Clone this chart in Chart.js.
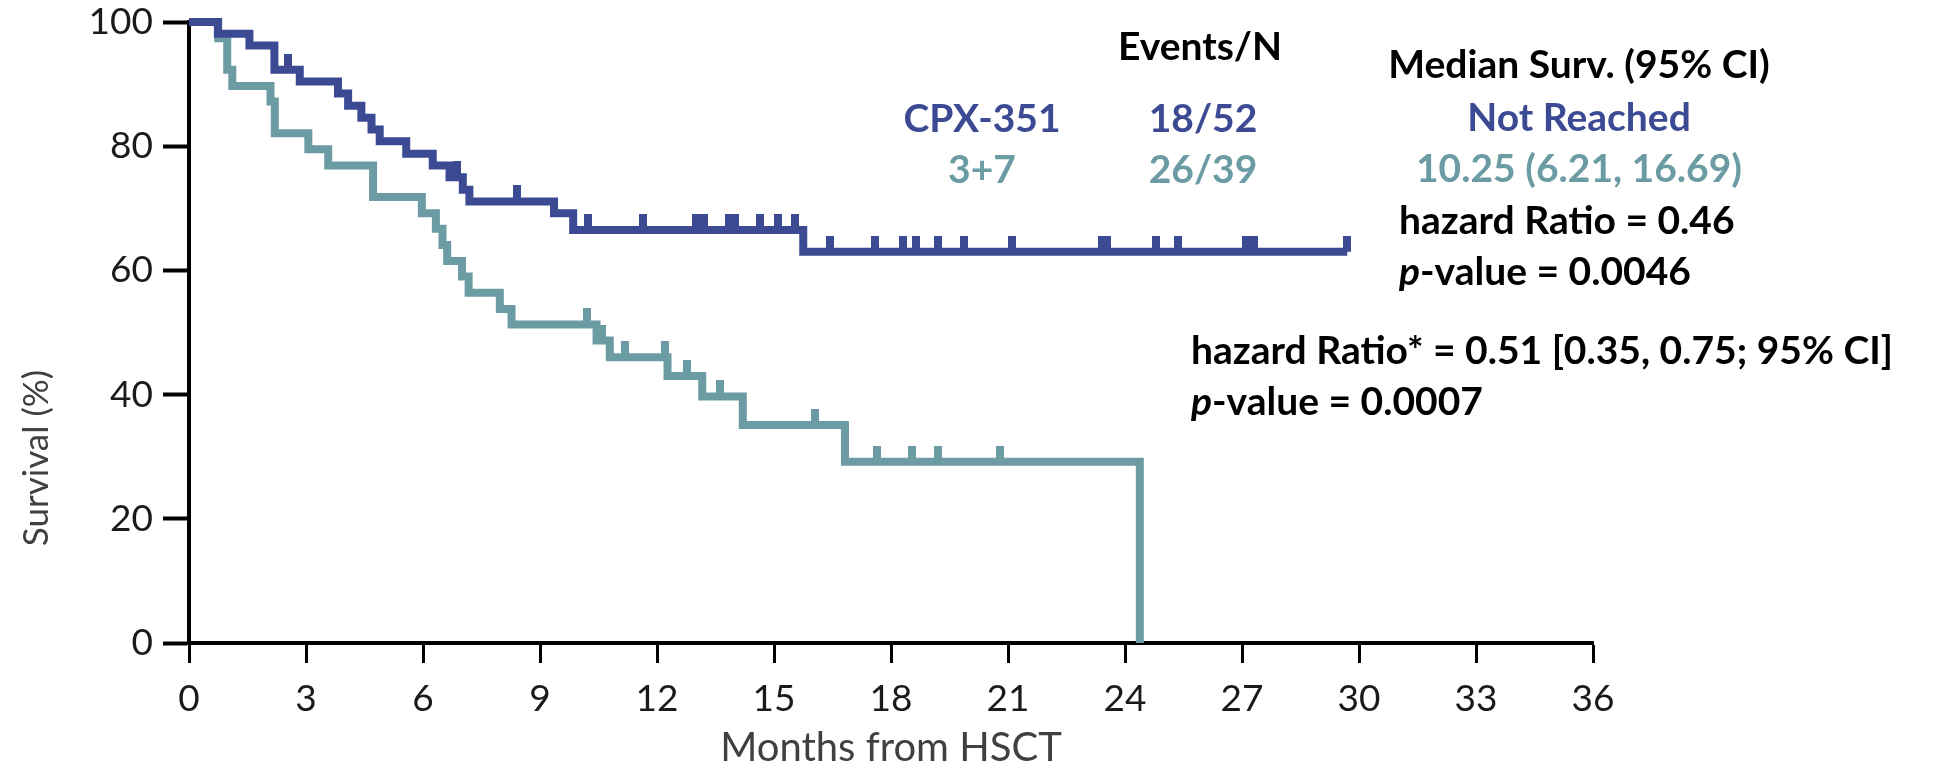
<!DOCTYPE html>
<html>
<head>
<meta charset="utf-8">
<script src="https://cdn.jsdelivr.net/npm/chart.js@4.4.0/dist/chart.umd.min.js"></script>
<style>
    body { margin: 0; background: #fff; }
    #chartContainer { width: 1941px; height: 764px; }
</style>
</head>
<body>
<div id="chartContainer"><canvas id="kmChart" width="1941" height="764"></canvas></div>
<script>
// -- DATA

const monthTicks = [0, 3, 6, 9, 12, 15, 18, 21, 24, 27, 30, 33, 36];
const survTicks = [0, 20, 40, 60, 80, 100];

const groupNames = ["CPX-351", "3+7"];
const eventsN = ["18/52", "26/39"];
const medianSurv = ["Not Reached", "10.25 (6.21, 16.69)"];
const tableHeaders = ["Events/N", "Median Surv. (95% CI)"];
const hazardLabels = ["hazard Ratio = 0.46", "hazard Ratio* = 0.51 [0.35, 0.75; 95% CI]"];
const pValues = ["0.0046", "0.0007"];

// CPX-351 step curve: month of each step, survival (%) after it
const cpxTimes = [0, 0.74, 1.55, 2.19, 2.84, 3.82, 4.08, 4.42, 4.68, 4.89, 5.57, 6.25, 6.68, 7.02, 7.19, 9.36, 9.85, 15.75, 29.7];
const cpxSurv = [100, 98.1, 96.2, 92.3, 90.4, 88.5, 86.5, 84.6, 82.7, 80.8, 78.8, 76.9, 75.0, 73.0, 71.1, 69.2, 66.5, 63.0, 63.0];
const cpxCensored = [2.53, 6.87, 8.42, 10.24, 11.65, 13.0, 13.2, 13.85, 14.0, 14.65, 15.1, 15.55,
    16.43, 17.6, 18.3, 18.65, 19.2, 19.86, 21.1, 23.4, 23.55, 24.8, 25.35, 27.1, 27.3, 29.7];

// 3+7 step curve
const ctlTimes = [0, 0.75, 0.98, 1.11, 2.09, 2.2, 3.06, 3.57, 4.72, 5.97, 6.33, 6.5, 6.62, 7.0, 7.17, 7.97, 8.27, 10.45, 10.79, 12.27, 13.16, 14.2, 16.82, 24.38];
const ctlSurv = [100, 97.4, 92.3, 89.7, 87.2, 82.1, 79.5, 76.9, 71.8, 69.2, 66.7, 64.1, 61.5, 59.0, 56.4, 53.8, 51.3, 48.7, 46.0, 43.0, 39.7, 35.1, 29.2, 0];
const ctlCensored = [10.2, 10.6, 11.17, 12.2, 12.78, 13.62, 16.04, 17.65, 18.55, 19.2, 20.8];

const BLUE = "#3b4a93";
const TEAL = "#6c9ca3";
const FONT = "Lato, 'Open Sans', sans-serif";
const TEXT_SIZE = 39;

// survival level of a step curve at month t
function levelAt(times, surv, t) {
    let s = surv[0];
    for (let i = 0; i < times.length; i++) {
        if (times[i] <= t) s = surv[i];
    }
    return s;
}

// censor mark: small vertical bar sitting on top of the line
function tickImage(color) {
    const c = document.createElement("canvas");
    c.width = 8;
    c.height = 32;
    const g = c.getContext("2d");
    g.fillStyle = color;
    g.fillRect(0, 0, 8, 16);
    return c;
}

function stepPoints(times, surv) {
    return times.map((t, i) => ({ x: t, y: surv[i] }));
}

function censorPoints(censored, times, surv) {
    return censored.map(t => ({ x: t, y: levelAt(times, surv, t) }));
}

function drawPLine(ctx, x, y, value) {
    ctx.textAlign = "left";
    ctx.font = `italic bold ${TEXT_SIZE}px ${FONT}`;
    ctx.fillText("p", x, y);
    const w = ctx.measureText("p").width;
    ctx.font = `bold ${TEXT_SIZE}px ${FONT}`;
    ctx.fillText("-value = " + value, x + w, y);
}

// -- TEXT ON THE PLOT

const annotations = {
    id: "annotations",
    afterDraw(chart) {
        const ctx = chart.ctx;
        ctx.save();
        ctx.textBaseline = "alphabetic";

        // y axis title, sits lower than the axis middle
        ctx.save();
        ctx.translate(37, 458);
        ctx.rotate(-Math.PI / 2);
        ctx.textAlign = "center";
        ctx.textBaseline = "middle";
        ctx.font = `35px ${FONT}`;
        ctx.fillStyle = "#404040";
        ctx.fillText("Survival (%)", 0, 0);
        ctx.restore();

        ctx.font = `bold ${TEXT_SIZE}px ${FONT}`;
        ctx.textAlign = "center";
        ctx.fillStyle = "#000";
        ctx.fillText(tableHeaders[0], 1200, 60);
        ctx.fillText(tableHeaders[1], 1579, 78);

        const colors = [BLUE, TEAL];
        const rowY = [132, 183];
        groupNames.forEach((name, i) => {
            ctx.fillStyle = colors[i];
            ctx.fillText(name, 982, rowY[i]);
            ctx.fillText(eventsN[i], 1203, rowY[i]);
            ctx.fillText(medianSurv[i], 1579, rowY[i] - 1);
        });

        ctx.fillStyle = "#000";
        ctx.textAlign = "left";
        ctx.fillText(hazardLabels[0], 1399, 234);
        drawPLine(ctx, 1399, 285, pValues[0]);
        ctx.font = `bold ${TEXT_SIZE}px ${FONT}`;
        ctx.fillText(hazardLabels[1], 1191, 364);
        drawPLine(ctx, 1191, 415, pValues[1]);

        ctx.restore();
    }
};

// -- CHART

const ctx = document.getElementById("kmChart").getContext("2d");
const chart = new Chart(ctx, {
    type: "line",
    data: {
        datasets: [
            {
                type: "scatter",
                label: groupNames[0] + " censored",
                data: censorPoints(cpxCensored, cpxTimes, cpxSurv),
                pointStyle: tickImage(BLUE),
                pointRadius: 3,
                order: 0,
                clip: false
            },
            {
                type: "scatter",
                label: groupNames[1] + " censored",
                data: censorPoints(ctlCensored, ctlTimes, ctlSurv),
                pointStyle: tickImage(TEAL),
                pointRadius: 3,
                order: 0,
                clip: false
            },
            {
                label: groupNames[0],
                data: stepPoints(cpxTimes, cpxSurv),
                stepped: true,
                borderColor: BLUE,
                borderWidth: 8,
                pointRadius: 0,
                fill: false,
                order: 1,
                clip: false
            },
            {
                label: groupNames[1],
                data: stepPoints(ctlTimes, ctlSurv),
                stepped: true,
                borderColor: TEAL,
                borderWidth: 8,
                pointRadius: 0,
                fill: false,
                order: 2,
                clip: false
            }
        ]
    },
    options: {
        responsive: false,
        animation: false,
        layout: {
            padding: { top: 22, right: 348, bottom: 0, left: 0 }
        },
        plugins: {
            legend: { display: false },
            tooltip: { enabled: false }
        },
        scales: {
            x: {
                type: "linear",
                min: 0,
                max: 36,
                afterBuildTicks: s => { s.ticks = monthTicks.map(v => ({ value: v })); },
                afterFit: s => { s.height = 121; },
                ticks: {
                    color: "#1a1a1a",
                    font: { family: FONT, size: 37 },
                    padding: 14,
                    maxRotation: 0,
                    autoSkip: false
                },
                grid: {
                    drawOnChartArea: false,
                    drawTicks: true,
                    tickLength: 20,
                    tickWidth: 3,
                    tickColor: "#000"
                },
                border: { color: "#000", width: 4 },
                title: {
                    display: true,
                    text: "Months from HSCT",
                    color: "#404040",
                    font: { family: FONT, size: 40 },
                    padding: { top: 0, bottom: -8 }
                }
            },
            y: {
                min: 0,
                max: 100,
                afterBuildTicks: s => { s.ticks = survTicks.map(v => ({ value: v })); },
                afterFit: s => {
                    s.width = 189;
                    s.paddingTop = 0;
                    s.paddingBottom = 0;
                },
                ticks: {
                    color: "#1a1a1a",
                    font: { family: FONT, size: 37 },
                    padding: 10
                },
                grid: {
                    drawOnChartArea: false,
                    drawTicks: true,
                    tickLength: 26,
                    tickWidth: 4,
                    tickColor: "#000"
                },
                border: { color: "#000", width: 4 }
            }
        }
    },
    plugins: [annotations]
});
</script>
</body>
</html>
